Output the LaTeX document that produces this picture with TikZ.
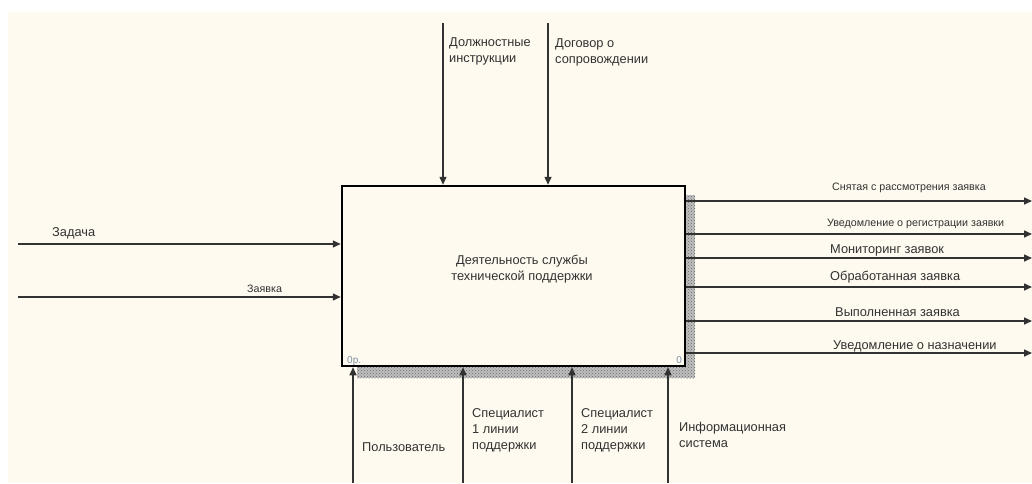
\documentclass[tikz,border=0pt]{standalone}
\usepackage{fontspec}
\setmainfont{Liberation Sans}
\usetikzlibrary{arrows.meta,patterns}
\definecolor{paper}{RGB}{254,250,239}
\definecolor{ink}{RGB}{50,50,50}
\definecolor{numgray}{RGB}{125,145,165}

\begin{document}
\begin{tikzpicture}[x=1pt,y=-1pt,
	arr/.style={draw=ink,line width=1.5pt,-{Triangle[length=8pt,width=7pt]}},
	lbl/.style={font=\fontsize{12.8}{16}\selectfont,align=left,inner sep=0pt,text=ink},
	small/.style={font=\fontsize{10.7}{12}\selectfont,inner sep=0pt,text=ink},
	num/.style={font=\fontsize{10}{11}\selectfont,inner sep=0pt,text=numgray},
	shade/.style={fill=black!25,postaction={pattern=crosshatch dots,pattern color=black!60}}]
			\useasboundingbox (0,0) rectangle (1032,483);
			\fill[white] (0,0) rectangle (1032,483);
			\fill[paper] (8,12) rectangle (1032,483);
			% shadow
			\path[shade] (685,195) rectangle (695,378);
			\path[shade] (357,366) rectangle (695,378);
			% activity
			\node[draw,line width=2.5pt,fill=paper,minimum width=343pt,minimum height=180pt,inner sep=0pt] (box) at (513.5,276) {};
			\node[lbl,align=center,anchor=north] (title) at (522,255) {Деятельность службы\\технической поддержки};
			\node[num,anchor=base west] (nodeid) at (347,363) {0р.};
			\node[num,anchor=base east] (cost) at (682,363) {0};
			% controls
			\coordinate (c1) at (443,23);
			\coordinate (c2) at (548,23);
			\draw[arr] (c1) -- (c1 |- box.north);
			\draw[arr] (c2) -- (c2 |- box.north);
			\node[lbl,anchor=north west] (c1l) at (449,37) {Должностные\\инструкции};
			\node[lbl,anchor=north west] (c2l) at (555,38) {Договор о\\сопровождении};
			% inputs
			\coordinate (i1) at (18,244);
			\coordinate (i2) at (18,297);
			\draw[arr] (i1) -- (i1 -| box.west);
			\draw[arr] (i2) -- (i2 -| box.west);
			\node[lbl,anchor=base west] (i1l) at (52,236) {Задача};
			\node[small,anchor=base west] (i2l) at (247,292) {Заявка};
			% outputs
			\coordinate (o1) at (1032,201);
			\coordinate (o2) at (1032,234);
			\coordinate (o3) at (1032,258);
			\coordinate (o4) at (1032,287);
			\coordinate (o5) at (1032,321);
			\coordinate (o6) at (1032,353);
			\foreach \o in {o1,o2,o3,o4,o5,o6}
				\draw[arr] (\o -| box.east) -- (\o);
			\node[small,anchor=base west] (o1l) at (832,190) {Снятая с рассмотрения заявка};
			\node[small,anchor=base west] (o2l) at (827,226) {Уведомление о регистрации заявки};
			\node[lbl,anchor=base west] (o3l) at (830,253) {Мониторинг заявок};
			\node[lbl,anchor=base west] (o4l) at (830,280) {Обработанная заявка};
			\node[lbl,anchor=base west] (o5l) at (835,316) {Выполненная заявка};
			\node[lbl,anchor=base west] (o6l) at (833,349) {Уведомление о назначении};
			% mechanisms
			\coordinate (m1) at (353,483);
			\coordinate (m2) at (463,483);
			\coordinate (m3) at (572,483);
			\coordinate (m4) at (668,483);
			\foreach \m in {m1,m2,m3,m4}
				\draw[arr] (\m) -- (\m |- box.south);
			\node[lbl,anchor=base west] (m1l) at (362,451) {Пользователь};
			\node[lbl,anchor=north west] (m2l) at (472,408) {Специалист\\1 линии\\поддержки};
			\node[lbl,anchor=north west] (m3l) at (581,408) {Специалист\\2 линии\\поддержки};
			\node[lbl,anchor=north west] (m4l) at (679,422) {Информационная\\система};
\end{tikzpicture}
\end{document}
